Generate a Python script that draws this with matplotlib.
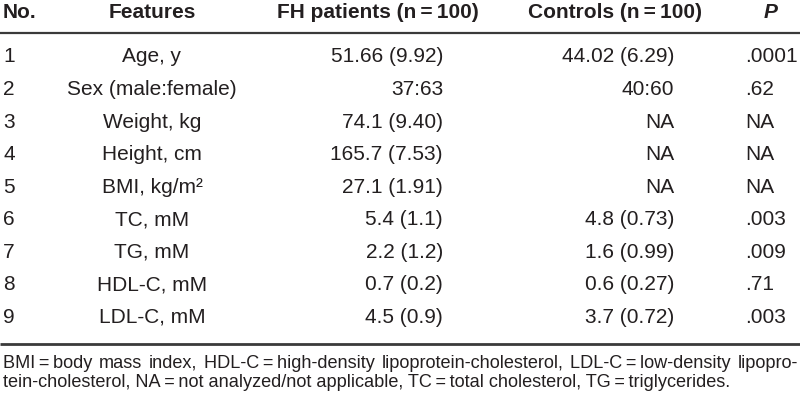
import matplotlib.pyplot as plt
from matplotlib import font_manager

# table contents
nums = ['1', '2', '3', '4', '5', '6', '7', '8', '9']
features = ['Age, y', 'Sex (male:female)', 'Weight, kg', 'Height, cm', 'BMI, kg/m²',
            'TC, mM', 'TG, mM', 'HDL-C, mM', 'LDL-C, mM']
fh_patients = ['51.66 (9.92)', '37:63', '74.1 (9.40)', '165.7 (7.53)', '27.1 (1.91)',
               '5.4 (1.1)', '2.2 (1.2)', '0.7 (0.2)', '4.5 (0.9)']
controls = ['44.02 (6.29)', '40:60', 'NA', 'NA', 'NA',
            '4.8 (0.73)', '1.6 (0.99)', '0.6 (0.27)', '3.7 (0.72)']
p_values = ['.0001', '.62', 'NA', 'NA', 'NA', '.003', '.009', '.71', '.003']
headers = ['No.', 'Features', 'FH patients (n\u2009=\u2009100)', 'Controls (n\u2009=\u2009100)', 'P']
footnote = [
    'BMI\u2009=\u2009body mass index, HDL-C\u2009=\u2009high-density lipoprotein-cholesterol, '
    'LDL-C\u2009=\u2009low-density lipopro-',
    'tein-cholesterol, NA\u2009=\u2009not analyzed/not applicable, TC\u2009=\u2009total cholesterol, '
    'TG\u2009=\u2009triglycerides.',
]

names = {f.name for f in font_manager.fontManager.ttflist}
main_font = 'Liberation Sans Narrow' if 'Liberation Sans Narrow' in names else 'Liberation Sans'
fam = [main_font, 'DejaVu Sans']
txt_col = '#231f20'

fig = plt.figure(figsize=(8, 4.11), dpi=100)
ax = fig.add_axes([0, 0, 1, 1])
ax.set_xlim(0, 800)
ax.set_ylim(411, 0)
ax.axis('off')

fs = 15
hy = 13
ax.text(3, hy, headers[0], ha='left', va='center', fontsize=fs, fontweight='bold', family=fam, color=txt_col)
ax.text(152, hy, headers[1], ha='center', va='center', fontsize=fs, fontweight='bold', family=fam, color=txt_col)
ax.text(378, hy, headers[2], ha='center', va='center', fontsize=fs, fontweight='bold', family=fam, color=txt_col)
ax.text(615, hy, headers[3], ha='center', va='center', fontsize=fs, fontweight='bold', family=fam, color=txt_col)
ax.text(771, hy, headers[4], ha='center', va='center', fontsize=fs, fontweight='bold',
        fontstyle='italic', family=fam, color=txt_col)

ax.plot([0, 800], [33, 33], color='#3a3a3a', lw=1.6, solid_capstyle='butt')
ax.plot([0, 800], [344, 344], color='#3a3a3a', lw=2.0, solid_capstyle='butt')

row0, step = 57, 32.5
for i in range(len(nums)):
    y = row0 + i * step
    ax.text(3, y, nums[i], ha='left', va='center', fontsize=fs, family=fam, color=txt_col)
    ax.text(152, y, features[i], ha='center', va='center', fontsize=fs, family=fam, color=txt_col)
    ax.text(443, y, fh_patients[i], ha='right', va='center', fontsize=fs, family=fam, color=txt_col)
    ax.text(674, y, controls[i], ha='right', va='center', fontsize=fs, family=fam, color=txt_col)
    ax.text(745, y, p_values[i], ha='left', va='center', fontsize=fs, family=fam, color=txt_col)

# footnote, first line justified across the width
renderer = fig.canvas.get_renderer()
fn_fs = 13.1
fn_y = [363, 382]
words = footnote[0].split(' ')
widths = []
for w in words:
    t = ax.text(0, 0, w, fontsize=fn_fs, family=fam)
    bb = t.get_window_extent(renderer)
    widths.append(bb.width)
    t.remove()
left, right = 3, 798
gap = (right - left - sum(widths)) / (len(words) - 1)
x = left
for w, wd in zip(words, widths):
    ax.text(x, fn_y[0], w, ha='left', va='center', fontsize=fn_fs, family=fam, color=txt_col)
    x += wd + gap
ax.text(left, fn_y[1], footnote[1], ha='left', va='center', fontsize=fn_fs, family=fam, color=txt_col)

fig.savefig('out.png', dpi=100)
